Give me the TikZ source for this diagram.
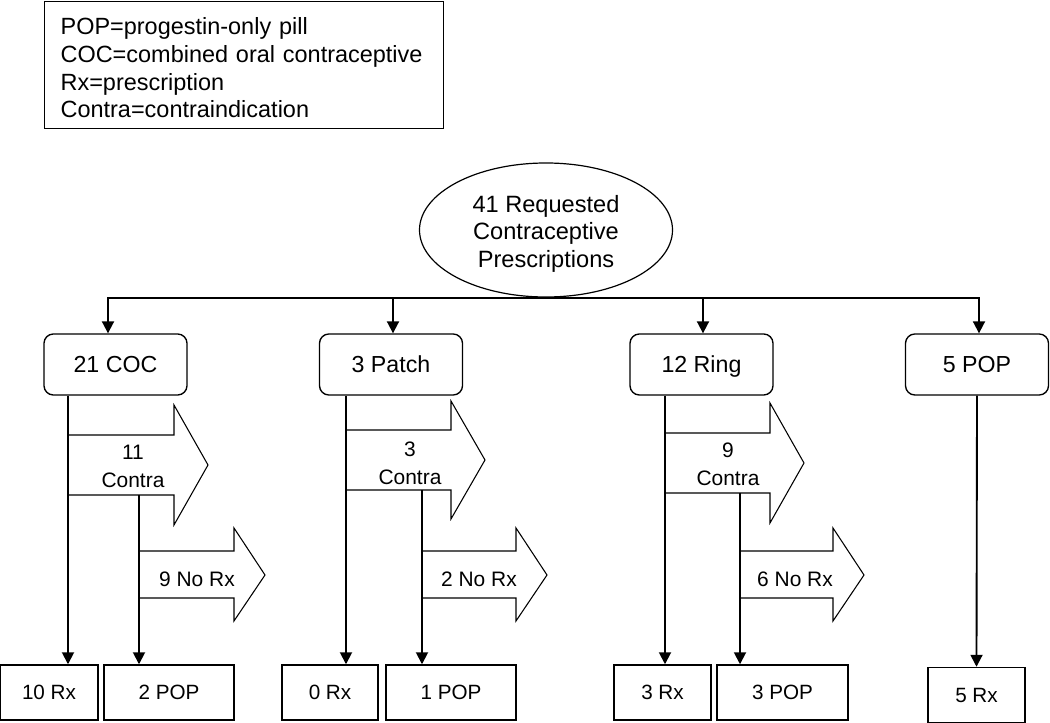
\documentclass[tikz,border=0pt]{standalone}
\usepackage{fontspec}
\setmainfont{Liberation Sans}
\usetikzlibrary{shapes.geometric,arrows.meta}

\tikzset{
  legendbox/.style={draw, line width=0.9pt, align=left, anchor=north west, text width=275pt, inner xsep=12pt, minimum height=95.25pt, font=\fontsize{17.6}{20.8}\selectfont},
  start/.style={draw, ellipse, line width=0.9pt, minimum width=189.75pt, minimum height=100.5pt, inner sep=0pt, align=center, font=\fontsize{17.7}{20.6}\selectfont},
  method/.style={draw, rounded corners=7pt, line width=1pt, minimum width=107.25pt, minimum height=45.75pt, text depth=0pt, font=\fontsize{17.4}{20}\selectfont},
  outcome/.style={draw, line width=1.1pt, minimum height=41.25pt, text depth=0pt, font=\fontsize{15.5}{18}\selectfont},
  conn/.style={line width=1.4pt, -{Triangle[length=9pt,width=9pt]}},
  bigarrow/.style={draw, line width=0.8pt},
  arrowtext/.style={align=center, font=\fontsize{15.7}{21}\selectfont}
}

\begin{document}
\begin{tikzpicture}[x=0.75pt,y=-0.75pt]
\useasboundingbox (0,0) rectangle (1050,723);
% legend
\node[legendbox] (legend) at (44,1) {\rule{0pt}{17pt}POP=progestin-only pill\\COC=combined oral contraceptive\\Rx=prescription\\Contra=contraindication};
% root
\node[start] (req) at (546,230) {\rule{0pt}{18pt}41 Requested\\Contraceptive\\Prescriptions};
% methods
\node[method] (coc) at (115.5,364.5) {21 COC};
\node[method] (patch) at (391,364.5) {3 Patch};
\node[method] (ring) at (701.5,364.5) {12 Ring};
\node[method] (pop) at (977,364.5) {5 POP};
% outcomes
\node[outcome, minimum width=73.5pt] (rxA) at (49,692.5) {10 Rx};
\node[outcome, minimum width=97.5pt] (popA) at (169,692.5) {2 POP};
\node[outcome, minimum width=72pt] (rxB) at (330,692.5) {0 Rx};
\node[outcome, minimum width=97.5pt] (popB) at (451,692.5) {1 POP};
\node[outcome, minimum width=72.75pt] (rxC) at (662.5,692.5) {3 Rx};
\node[outcome, minimum width=98.25pt] (popC) at (782.5,692.5) {3 POP};
\node[outcome, minimum width=72.75pt] (rxD) at (976.5,695) {5 Rx};

% bus from root
\draw[conn] (req.south) -| (coc.north -| 108,0);
\draw[conn] (req.south) -| (patch.north -| 393,0);
\draw[conn] (req.south) -| (ring.north -| 703,0);
\draw[conn] (req.south) -| (pop.north -| 979,0);

% COC branch
\draw[bigarrow] (68,435) -- (174,435) -- (174,405) -- (208,465) -- (174,525) -- (174,495) -- (68,495) -- cycle;
\node[arrowtext] (contraA) at (133,466.5) {11\\Contra};
\draw[bigarrow] (139,551) -- (234,551) -- (234,528) -- (265,575) -- (234,621) -- (234,598) -- (139,598) -- cycle;
\node[arrowtext] (norxA) at (197,579) {9 No Rx};
\coordinate (splitA) at (139,495);
\draw[conn] (coc.south -| 68,0) -- (rxA.north -| 68,0);
\draw[conn] (splitA) -- (popA.north -| splitA);

% Patch branch
\draw[bigarrow] (346,430) -- (451,430) -- (451,401) -- (485,460) -- (451,519) -- (451,490) -- (346,490) -- cycle;
\node[arrowtext] (contraB) at (410,463.5) {3\\Contra};
\draw[bigarrow] (422,551) -- (516,551) -- (516,528) -- (547,575) -- (516,621) -- (516,598) -- (422,598) -- cycle;
\node[arrowtext] (norxB) at (479,579) {2 No Rx};
\coordinate (splitB) at (422,490);
\draw[conn] (patch.south -| 346,0) -- (rxB.north -| 346,0);
\draw[conn] (splitB) -- (popB.north -| splitB);

% Ring branch
\draw[bigarrow] (665,433) -- (770,433) -- (770,403) -- (804,463) -- (770,523) -- (770,493) -- (665,493) -- cycle;
\node[arrowtext] (contraC) at (728,464.5) {9\\Contra};
\draw[bigarrow] (740,551) -- (833,551) -- (833,528) -- (864,575) -- (833,621) -- (833,598) -- (740,598) -- cycle;
\node[arrowtext] (norxC) at (795,579) {6 No Rx};
\coordinate (splitC) at (740,493);
\draw[conn] (ring.south -| 665,0) -- (rxC.north -| 665,0);
\draw[conn] (splitC) -- (popC.north -| splitC);

% POP branch
\draw[conn] (pop.south) -- (rxD.north);
\end{tikzpicture}
\end{document}
